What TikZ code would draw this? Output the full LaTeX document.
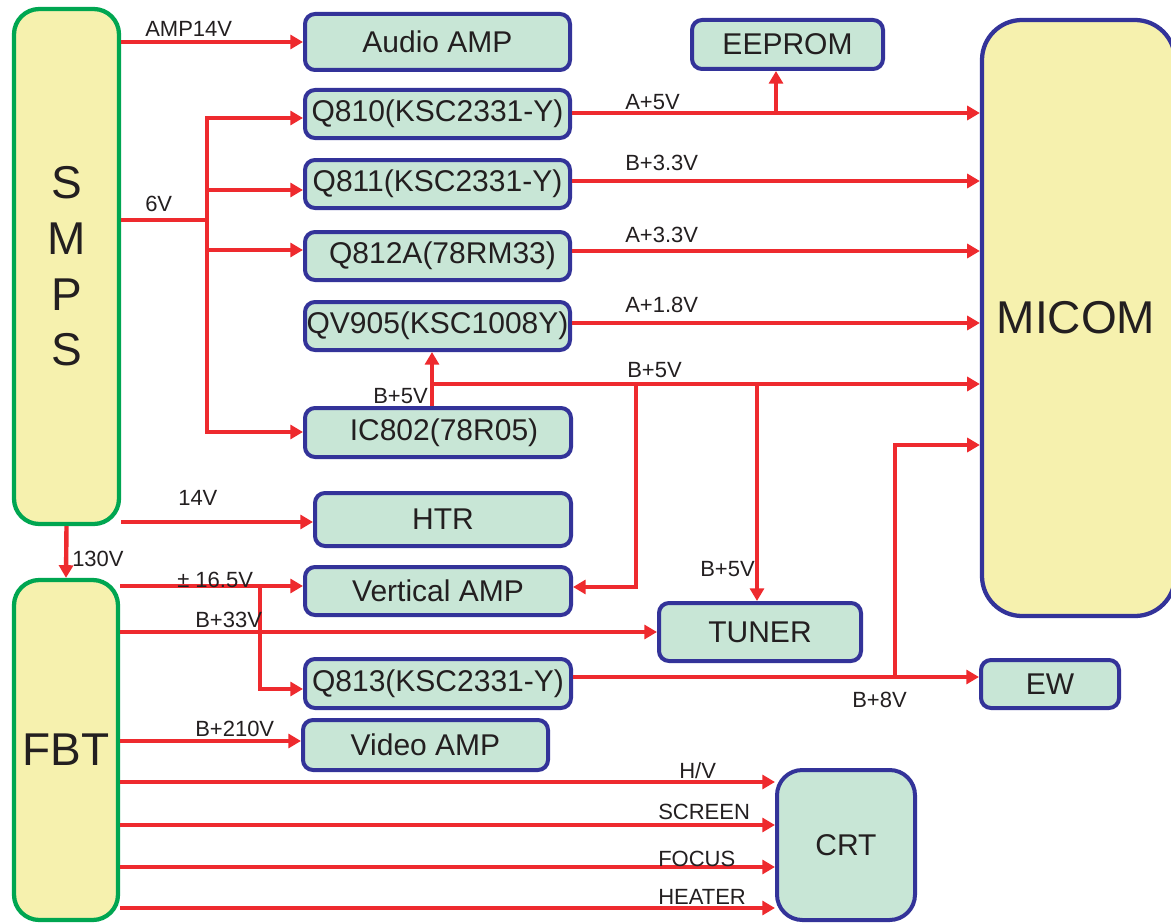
\documentclass[tikz,border=0pt]{standalone}
\usepackage{fontspec}
\setmainfont{Liberation Sans}
\usetikzlibrary{arrows.meta}
\newdimen\pxu \pxu=0.75pt
\newcommand\boxfont{\fontsize{22.5}{27}\selectfont}
\newcommand\lblfont{\fontsize{16.5}{20}\selectfont}
\newcommand\bigfont{\fontsize{34.5}{41.75}\selectfont}
\definecolor{bblue}{HTML}{333399}
\definecolor{bgreen}{HTML}{C8E6D6}
\definecolor{byellow}{HTML}{F6F1AE}
\definecolor{egreen}{HTML}{00A651}
\definecolor{wred}{HTML}{EE2A2E}
\definecolor{txt}{HTML}{231F20}
\tikzset{
  box/.style={draw=bblue, fill=bgreen, line width=3pt, rounded corners=7.5pt,
    font=\boxfont, text=txt, inner sep=0pt},
  bigbox/.style={draw=egreen, fill=byellow, line width=3.2pt, rounded corners=19pt,
    font=\bigfont, text=txt, inner sep=0pt, align=center},
  lbl/.style={font=\lblfont, text=txt, inner sep=0pt, anchor=base west},
  wire/.style={draw=wred, line width=3.3pt, -{Triangle[length=9.5pt,width=10.5pt]}},
  wline/.style={draw=wred, line width=3.3pt},
}
\begin{document}
\begin{tikzpicture}[x=0.75pt, y=-0.75pt]
\useasboundingbox (0,0) rectangle (1171,924);
% big blocks
\node[bigbox, minimum width=105\pxu, minimum height=515\pxu] (smps) at (66.5,266.5) {S\\M\\P\\S};
\node[bigbox, minimum width=104\pxu, minimum height=340\pxu] (fbt) at (66,750) {FBT};
\node[bigbox, draw=bblue, rounded corners=30pt, minimum width=193\pxu, minimum height=596\pxu] (micom) at (1078.5,318) {};
\node[font=\bigfont, text=txt, inner sep=0pt] (micomtext) at (1076,318) {MICOM};
% boxes
\node[box, minimum width=265\pxu, minimum height=56\pxu] (audio) at (437.5,42) {Audio AMP};
\node[box, minimum width=191\pxu, minimum height=49\pxu] (eeprom) at (787.5,44.5) {EEPROM};
\node[box, minimum width=265\pxu, minimum height=48\pxu] (q810) at (437.5,114) {Q810(KSC2331-Y)};
\node[box, minimum width=265\pxu, minimum height=48\pxu] (q811) at (437.5,184) {Q811(KSC2331-Y)};
\node[box, minimum width=265\pxu, minimum height=48\pxu] (q812) at (437.5,256) {\hspace{10\pxu}Q812A(78RM33)};
\node[box, minimum width=265\pxu, minimum height=48\pxu] (qv905) at (437.5,326) {QV905(KSC1008Y)};
\node[box, minimum width=266\pxu, minimum height=49\pxu] (ic802) at (438,432.5) {\hspace{12\pxu}IC802(78R05)};
\node[box, minimum width=256\pxu, minimum height=53\pxu] (htr) at (443,519.5) {HTR};
\node[box, minimum width=266\pxu, minimum height=48\pxu] (vamp) at (438,591) {Vertical AMP};
\node[box, minimum width=202\pxu, minimum height=58\pxu] (tuner) at (760,632) {TUNER};
\node[box, minimum width=266\pxu, minimum height=49\pxu] (q813) at (438,683.5) {Q813(KSC2331-Y)};
\node[box, minimum width=138\pxu, minimum height=48\pxu] (ew) at (1050,684) {EW};
\node[box, minimum width=245\pxu, minimum height=50\pxu] (vidamp) at (425.5,745) {Video AMP};
\node[box, rounded corners=19pt, minimum width=138\pxu, minimum height=150\pxu] (crt) at (846,845) {CRT};
% junctions
\coordinate (j6) at (207,220);
\coordinate (jee) at (776,113);
\coordinate (jb5) at (432,384);
\coordinate (jva) at (636,384);
\coordinate (jtu) at (757,384);
\coordinate (j16) at (260,586);
\coordinate (jb8) at (895,677);
% SMPS outputs
\draw[wire] (smps.east |- 0,42) -- (audio.west |- 0,42);
\draw[wline] (smps.east |- j6) -- (j6);
\draw[wire] (j6) |- (q810.west |- 0,118);
\draw[wire] (j6 |- 0,190) -- (q811.west |- 0,190);
\draw[wire] (j6 |- 0,250) -- (q812.west |- 0,250);
\draw[wire] (j6) |- (ic802.west |- 0,432);
\draw[wire] (smps.east |- 0,522) -- (htr.west |- 0,522);
\draw[wire] (smps.south) -- (fbt.north);
% regulator outputs
\draw[wire] (q810.east |- jee) -- (micom.west |- jee);
\draw[wire] (jee) -- (eeprom.south -| jee);
\draw[wire] (q811.east |- 0,181) -- (micom.west |- 0,181);
\draw[wire] (q812.east |- 0,251) -- (micom.west |- 0,251);
\draw[wire] (qv905.east |- 0,323) -- (micom.west |- 0,323);
\draw[wire] (ic802.north -| jb5) -- (qv905.south -| jb5);
\draw[wire] (jb5) -- (micom.west |- jb5);
\draw[wire] (jva) |- (vamp.east |- 0,587);
\draw[wire] (jtu) -- (tuner.north -| jtu);
% FBT outputs
\draw[wire] (fbt.east |- j16) -- (vamp.west |- j16);
\draw[wire] (j16) |- (q813.west |- 0,689);
\draw[wire] (fbt.east |- 0,632) -- (tuner.west |- 0,632);
\draw[wire] (q813.east |- jb8) -- (ew.west |- jb8);
\draw[wire] (jb8) |- (micom.west |- 0,445);
\draw[wire] (fbt.east |- 0,741) -- (vidamp.west |- 0,741);
\draw[wire] (fbt.east |- 0,782) -- (crt.west |- 0,782);
\draw[wire] (fbt.east |- 0,825) -- (crt.west |- 0,825);
\draw[wire] (fbt.east |- 0,867) -- (crt.west |- 0,867);
\draw[wire] (fbt.east |- 0,908) -- (crt.west |- 0,908);
% labels
\node[lbl] (lamp) at (145,37) {AMP14V};
\node[lbl] (l6v) at (145,211) {6V};
\node[lbl] (la5) at (625,109) {A+5V};
\node[lbl] (lb33) at (625,170) {B+3.3V};
\node[lbl] (la33) at (625,242) {A+3.3V};
\node[lbl] (la18) at (625,312) {A+1.8V};
\node[lbl] (lb5a) at (627,377) {B+5V};
\node[lbl] (lb5b) at (373,403) {B+5V};
\node[lbl] (l14) at (178,505) {14V};
\node[lbl] (l130) at (72,566) {130V};
\node[lbl] (l165) at (177,587) {± 16.5V};
\node[lbl] (lb33v) at (195,627) {B+33V};
\node[lbl] (lb5c) at (700,576) {B+5V};
\node[lbl] (lb8) at (852,707) {B+8V};
\node[lbl] (lb210) at (195,736) {B+210V};
\node[lbl] (lhv) at (679,778) {H/V};
\node[lbl] (lscr) at (658,819) {SCREEN};
\node[lbl] (lfoc) at (658,866) {FOCUS};
\node[lbl] (lhea) at (658,904) {HEATER};
\end{tikzpicture}
\end{document}
